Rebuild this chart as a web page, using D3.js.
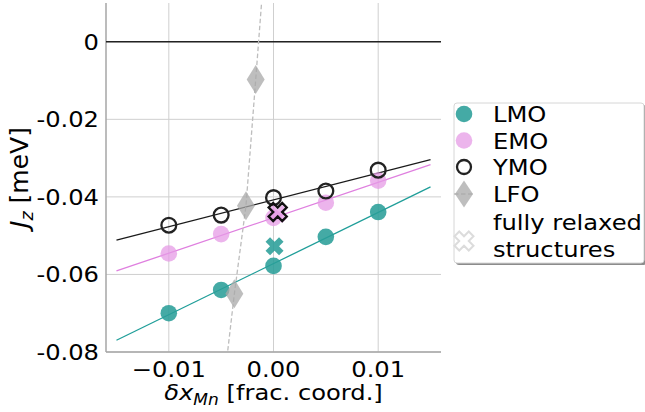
<!DOCTYPE html>
<html>
<head>
<meta charset="utf-8">
<script src="https://cdnjs.cloudflare.com/ajax/libs/d3/7.8.5/d3.min.js"></script>
<style>
body { margin: 0; background: #fff; }
text { font-family: "DejaVu Sans", sans-serif; fill: #000; }
</style>
</head>
<body>
<div id="chart"></div>
<script>
// displacement of Mn (frac. coord.)
var dx = [-0.01, -0.005, 0, 0.005, 0.01];
var lmo = [-0.0700, -0.0640, -0.0578, -0.0503, -0.0439];
var emo = [-0.0546, -0.0496, -0.0454, -0.0415, -0.0358];
var ymo = [-0.0473, -0.0447, -0.0402, -0.0385, -0.0331];

// LFO is plotted against its own displacements, first and last point lie outside the view
var lfoX = [-0.0046, -0.00374, -0.00263, -0.0017, -0.0010];
var lfoY = [-0.0850, -0.0650, -0.0423, -0.00976, 0.0150];

// fully relaxed structures
var relaxed = [
	{name: "EMO", x: 0.0004, y: -0.0444},
	{name: "YMO", x: 0.0004, y: -0.0439},
	{name: "LMO", x: 0.0001, y: -0.0527}
];

var fitRange = [-0.015, 0.015];
var xTicks = [-0.01, 0, 0.01];
var xTickLabels = ["\u22120.01", "0.00", "0.01"];
var yTicks = [0, -0.02, -0.04, -0.06, -0.08];
var yTickLabels = ["0", "-0.02", "-0.04", "-0.06", "-0.08"];
var legendLabels = ["LMO", "EMO", "YMO", "LFO", ["fully relaxed", "structures"]];

var WIDTH = 645;
var HEIGHT = 412;
var LEFT = 106, TOP = 3, RIGHT = 441, BOTTOM = 352;
var FONT = 22;
var STRETCH = 1.1; // glyphs in the picture are a bit wider than tall

var TEAL = "#1f9e99";
var VIOLET = "#df7fdf";

var x = d3.scaleLinear().domain([-0.016, 0.016]).range([LEFT, RIGHT]);
var y = d3.scaleLinear().domain([-0.08, 0.01]).range([BOTTOM, TOP]);

var svg = d3.select("#chart").append("svg")
	.attr("width", WIDTH)
	.attr("height", HEIGHT);

svg.append("clipPath").attr("id", "clip")
	.append("rect")
	.attr("x", LEFT).attr("y", TOP)
	.attr("width", RIGHT - LEFT).attr("height", BOTTOM - TOP);

/* least squares line through one series */
function fit(xs, ys) {
	var mx = d3.mean(xs), my = d3.mean(ys);
	var sxy = 0, sxx = 0;
	for(var i = 0; i < xs.length; i++) {
		sxy += (xs[i] - mx) * (ys[i] - my);
		sxx += (xs[i] - mx) * (xs[i] - mx);
	}
	var slope = sxy / sxx;
	return fitRange.map(function(v) { return [v, my + slope * (v - mx)]; });
}

/* matplotlib style filled "X" marker, s = full size in px */
function xMarker(s) {
	var p = [[-0.25,-0.5],[0,-0.25],[0.25,-0.5],[0.5,-0.25],[0.25,0],[0.5,0.25],
		[0.25,0.5],[0,0.25],[-0.25,0.5],[-0.5,0.25],[-0.25,0],[-0.5,-0.25]];
	return "M" + p.map(function(q) { return (q[0] * s) + "," + (q[1] * s); }).join("L") + "Z";
}

function diamond(w, h) {
	return "M0," + (-h/2) + "L" + (w/2) + ",0L0," + (h/2) + "L" + (-w/2) + ",0Z";
}

function place(px, py) {
	return "translate(" + px + "," + py + ") scale(" + STRETCH + ",1)";
}

// grid
var grid = svg.append("g");
grid.selectAll(".gx")
	.data(xTicks)
	.enter()
	.append("line")
	.attr("x1", d => x(d)).attr("x2", d => x(d))
	.attr("y1", TOP).attr("y2", BOTTOM)
	.attr("stroke", "#cfcfcf")
	.attr("stroke-width", 1);
grid.selectAll(".gy")
	.data(yTicks)
	.enter()
	.append("line")
	.attr("x1", LEFT).attr("x2", RIGHT)
	.attr("y1", d => y(d)).attr("y2", d => y(d))
	.attr("stroke", "#cfcfcf")
	.attr("stroke-width", 1);

// spines
svg.append("line")
	.attr("x1", LEFT).attr("x2", LEFT).attr("y1", TOP).attr("y2", BOTTOM)
	.attr("stroke", "#a6a6a6").attr("stroke-width", 1.5);
svg.append("line")
	.attr("x1", LEFT).attr("x2", RIGHT).attr("y1", BOTTOM).attr("y2", BOTTOM)
	.attr("stroke", "#a6a6a6").attr("stroke-width", 1.5);

// zero line
svg.append("line")
	.attr("x1", LEFT).attr("x2", RIGHT).attr("y1", y(0)).attr("y2", y(0))
	.attr("stroke", "#222").attr("stroke-width", 1.5);

var plot = svg.append("g").attr("clip-path", "url(#clip)");
var line = d3.line().x(d => x(d[0])).y(d => y(d[1]));

// fits
plot.append("path").attr("d", line(fit(dx, ymo))).attr("fill", "none").attr("stroke", "#1a1a1a").attr("stroke-width", 1.3);
plot.append("path").attr("d", line(fit(dx, emo))).attr("fill", "none").attr("stroke", VIOLET).attr("stroke-width", 1.3);
plot.append("path").attr("d", line(fit(dx, lmo))).attr("fill", "none").attr("stroke", TEAL).attr("stroke-width", 1.3);

// data points
plot.selectAll(".lmo")
	.data(d3.zip(dx, lmo))
	.enter()
	.append("circle")
	.attr("cx", d => x(d[0])).attr("cy", d => y(d[1]))
	.attr("r", 8.3)
	.attr("fill", "#2a9e99")
	.attr("fill-opacity", 0.88);

plot.selectAll(".emo")
	.data(d3.zip(dx, emo))
	.enter()
	.append("circle")
	.attr("cx", d => x(d[0])).attr("cy", d => y(d[1]))
	.attr("r", 8.3)
	.attr("fill", "#e59be5")
	.attr("fill-opacity", 0.75);

plot.selectAll(".ymo")
	.data(d3.zip(dx, ymo))
	.enter()
	.append("circle")
	.attr("cx", d => x(d[0])).attr("cy", d => y(d[1]))
	.attr("r", 7.4)
	.attr("fill", "none")
	.attr("stroke", "#222")
	.attr("stroke-width", 2.3);

// LFO
plot.append("path")
	.attr("d", line(d3.zip(lfoX, lfoY)))
	.attr("fill", "none")
	.attr("stroke", "#bdbdbd")
	.attr("stroke-width", 1.3)
	.attr("stroke-dasharray", "4.5,2.5");

plot.selectAll(".lfo")
	.data(d3.zip(lfoX, lfoY))
	.enter()
	.append("path")
	.attr("transform", d => "translate(" + x(d[0]) + "," + y(d[1]) + ")")
	.attr("d", diamond(18, 29))
	.attr("fill", "#a8a8a8")
	.attr("fill-opacity", 0.75);

// relaxed structures
var relaxedStyle = {
	EMO: {fill: "#e59be5", stroke: "none", sw: 0, op: 0.75},
	YMO: {fill: "none", stroke: "#111", sw: 2.4, op: 1},
	LMO: {fill: "#2a9e99", stroke: "none", sw: 0, op: 0.88}
};
plot.selectAll(".relaxed")
	.data(relaxed)
	.enter()
	.append("path")
	.attr("transform", d => "translate(" + x(d.x) + "," + y(d.y) + ")")
	.attr("d", xMarker(18))
	.attr("fill", d => relaxedStyle[d.name].fill)
	.attr("fill-opacity", d => relaxedStyle[d.name].op)
	.attr("stroke", d => relaxedStyle[d.name].stroke)
	.attr("stroke-width", d => relaxedStyle[d.name].sw)
	.attr("stroke-linejoin", "miter");

// tick labels
svg.selectAll(".xt")
	.data(xTicks)
	.enter()
	.append("text")
	.attr("transform", d => place(x(d), 377))
	.attr("text-anchor", "middle")
	.style("font-size", FONT + "px")
	.text((d, i) => xTickLabels[i]);

svg.selectAll(".yt")
	.data(yTicks)
	.enter()
	.append("text")
	.attr("transform", d => place(99, y(d)))
	.attr("dy", "0.36em")
	.attr("text-anchor", "end")
	.style("font-size", FONT + "px")
	.text((d, i) => yTickLabels[i]);

// axis labels
var xl = svg.append("text")
	.attr("transform", place((LEFT + RIGHT) / 2, 400))
	.attr("text-anchor", "middle")
	.style("font-size", FONT + "px");
xl.append("tspan").style("font-style", "italic").text("\u03b4x");
xl.append("tspan").attr("dy", 5).style("font-style", "italic").style("font-size", "15.5px").text("Mn");
xl.append("tspan").attr("dy", -5).text(" [frac. coord.]");

var yl = svg.append("text")
	.attr("transform", "translate(28," + ((TOP + BOTTOM) / 2) + ") rotate(-90)")
	.attr("text-anchor", "middle")
	.style("font-size", "25px");
yl.append("tspan").style("font-style", "italic").text("J");
yl.append("tspan").attr("dy", 5).style("font-style", "italic").style("font-size", "17.5px").text("z");
yl.append("tspan").attr("dy", -5).text(" [meV]");

// legend
var lg = svg.append("g");
lg.append("rect")
	.attr("x", 456).attr("y", 105)
	.attr("width", 190).attr("height", 160)
	.attr("rx", 3)
	.attr("fill", "#8c8c8c");
lg.append("rect")
	.attr("x", 454).attr("y", 103)
	.attr("width", 190).attr("height", 160)
	.attr("rx", 3)
	.attr("fill", "#fff")
	.attr("stroke", "#d6d6d6")
	.attr("stroke-width", 1);

var LEG_X = 464;
var legendRows = [114, 140.5, 167, 194, 241];
var legendBase = [122, 148.5, 175.3, 202, 230];

lg.append("circle").attr("cx", LEG_X).attr("cy", legendRows[0]).attr("r", 8.3)
	.attr("fill", "#2a9e99").attr("fill-opacity", 0.88);
lg.append("circle").attr("cx", LEG_X).attr("cy", legendRows[1]).attr("r", 8.3)
	.attr("fill", "#e59be5").attr("fill-opacity", 0.75);
lg.append("circle").attr("cx", LEG_X).attr("cy", legendRows[2]).attr("r", 7)
	.attr("fill", "none").attr("stroke", "#222").attr("stroke-width", 2.3);
lg.append("line")
	.attr("x1", LEG_X - 10).attr("x2", LEG_X + 10)
	.attr("y1", legendRows[3]).attr("y2", legendRows[3])
	.attr("stroke", "#bdbdbd").attr("stroke-width", 1.3).attr("stroke-dasharray", "4.5,2.5");
lg.append("path")
	.attr("transform", "translate(" + LEG_X + "," + legendRows[3] + ")")
	.attr("d", diamond(18, 27))
	.attr("fill", "#a8a8a8").attr("fill-opacity", 0.75);
lg.append("path")
	.attr("transform", "translate(" + LEG_X + "," + legendRows[4] + ")")
	.attr("d", xMarker(19))
	.attr("fill", "#fff")
	.attr("stroke", "#dcdcdc")
	.attr("stroke-width", 2);

legendLabels.forEach(function(lab, i) {
	var lines = Array.isArray(lab) ? lab : [lab];
	lines.forEach(function(s, k) {
		lg.append("text")
			.attr("transform", place(493, legendBase[i] + k * 26.7))
			.style("font-size", FONT + "px")
			.text(s);
	});
});
</script>
</body>
</html>
